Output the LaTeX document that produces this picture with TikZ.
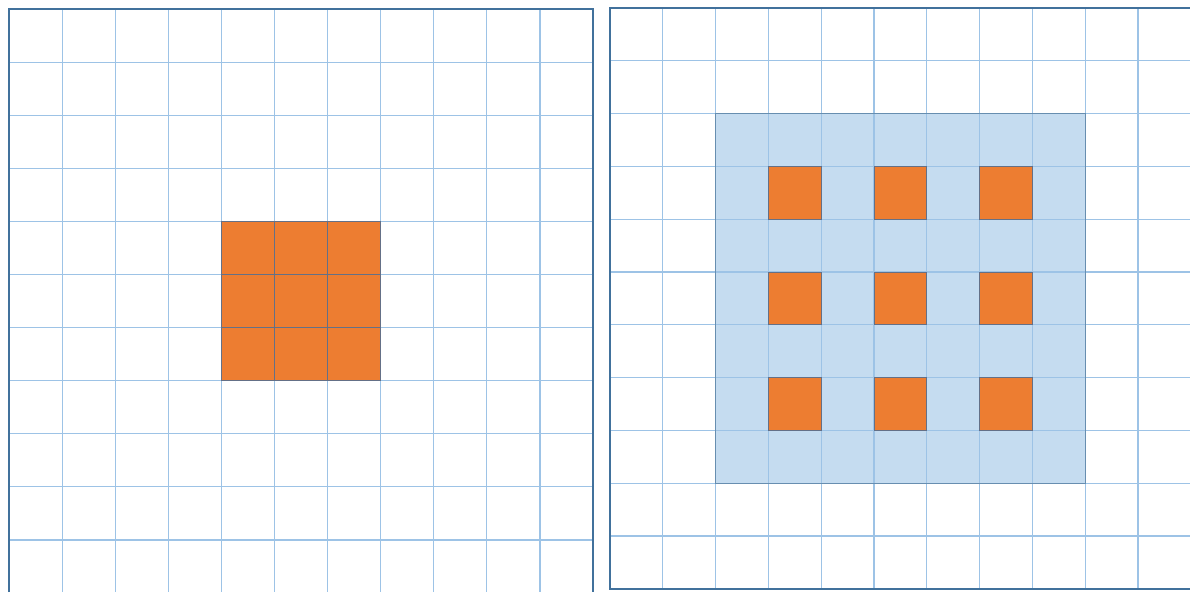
\documentclass[tikz,border=0pt]{standalone}
\definecolor{gridline}{RGB}{157,195,230}
\definecolor{frameblue}{RGB}{65,113,156}
\definecolor{orangefill}{RGB}{237,125,49}
\definecolor{lightfill}{RGB}{197,220,240}
\definecolor{celledge}{RGB}{100,112,135}
\tikzset{
  gridln/.style={draw=gridline, line width=1.1pt},
  frame/.style={draw=frameblue, line width=2.2pt},
  hot/.style={fill=orangefill, draw=celledge, line width=0.8pt},
  zone/.style={fill=lightfill, draw=frameblue!80, line width=0.8pt}
}
\begin{document}
\begin{tikzpicture}[x=1pt,y=-1pt]
\useasboundingbox (0,0) rectangle (1190,592);
\fill[white] (0,0) rectangle (1190,592);
% ---------- left grid ----------
\def\Lx{9}\def\Ly{9}\def\Lc{53.1}
\foreach \k in {0,...,11}{
  \draw[gridln] (\Lx+\k*\Lc,\Ly) -- (\Lx+\k*\Lc,592);
}
\foreach \k in {0,...,10}{
  \draw[gridln] (\Lx,\Ly+\k*\Lc) -- (\Lx+11*\Lc,\Ly+\k*\Lc);
}
\foreach \i in {4,5,6}{
  \foreach \j in {4,5,6}{
    \draw[hot] (\Lx+\i*\Lc,\Ly+\j*\Lc) rectangle ++(\Lc,\Lc);
  }
}
\draw[frame] (\Lx,592) -- (\Lx,\Ly) -- (\Lx+11*\Lc,\Ly) -- (\Lx+11*\Lc,592);
% ---------- right grid ----------
\def\Rx{610}\def\Ry{8}\def\Rc{52.8}
\draw[zone] (\Rx+2*\Rc,\Ry+2*\Rc) rectangle (\Rx+9*\Rc,\Ry+9*\Rc);
\foreach \k in {0,...,11}{
  \draw[gridln] (\Rx+\k*\Rc,\Ry) -- (\Rx+\k*\Rc,\Ry+11*\Rc);
}
\foreach \k in {0,...,11}{
  \draw[gridln] (\Rx,\Ry+\k*\Rc) -- (1190,\Ry+\k*\Rc);
}
\draw[frameblue!80, line width=0.8pt] (\Rx+2*\Rc,\Ry+2*\Rc) rectangle (\Rx+9*\Rc,\Ry+9*\Rc);
\foreach \i in {3,5,7}{
  \foreach \j in {3,5,7}{
    \draw[hot] (\Rx+\i*\Rc,\Ry+\j*\Rc) rectangle ++(\Rc,\Rc);
  }
}
\draw[frame] (1190,\Ry) -- (\Rx,\Ry) -- (\Rx,\Ry+11*\Rc) -- (1190,\Ry+11*\Rc);
\end{tikzpicture}
\end{document}
